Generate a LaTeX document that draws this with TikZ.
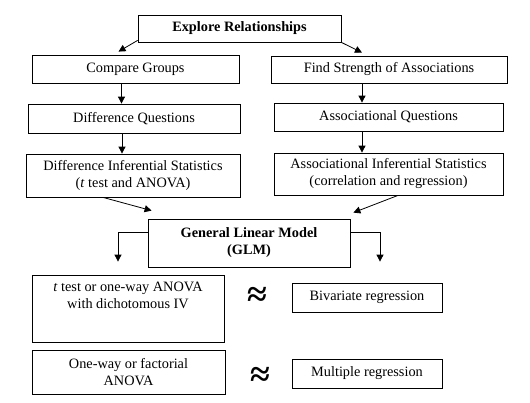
\documentclass[tikz,border=0pt]{standalone}
\usepackage{fontspec}
\setmainfont{Liberation Serif}
\usetikzlibrary{arrows.meta}

\newcommand\chartfont{\fontsize{14.3}{17}\selectfont}

\tikzset{
	box/.style={draw, line width=0.8pt, align=center, inner sep=1pt},
	arr/.style={-{Triangle[length=7pt,width=7pt]}, line width=0.8pt},
	approx/.style={font=\fontsize{36}{36}\selectfont\bfseries, inner sep=0pt},
}

\begin{document}
\begin{tikzpicture}[x=1pt, y=-1pt, every node/.style={font=\chartfont}]
	\useasboundingbox (0,0) rectangle (530,402);
	% top of the chart
	\node[box, minimum width=203pt, minimum height=27pt, font=\chartfont\bfseries] (explore) at (239.5,28.5) {Explore Relationships};
	\node[box, minimum width=207pt, minimum height=28pt] (compare) at (135.5,69) {Compare Groups};
	\node[box, minimum width=236pt, minimum height=27pt] (strength) at (389,69.5) {Find Strength of Associations};
	\node[box, minimum width=212pt, minimum height=29pt] (diffq) at (134,118.5) {Difference Questions};
	\node[box, minimum width=229pt, minimum height=28pt] (assocq) at (388.5,117) {Associational Questions};
	\node[box, minimum width=214pt, minimum height=43pt] (diffinf) at (133,175.5) {Difference Inferential Statistics\\(\textit{t} test and ANOVA)};
	\node[box, minimum width=229pt, minimum height=42pt] (associnf) at (388.5,174) {Associational Inferential Statistics\\(correlation and regression)};
	\node[box, minimum width=202pt, minimum height=48pt, font=\chartfont\bfseries] (glm) at (249,243) {General Linear Model\\(GLM)};

	% bottom rows
	\node[box, minimum width=192pt, minimum height=67pt] (ttest) at (128,308.5) {};
	\node[anchor=north, align=center] (ttesttxt) at ([yshift=-4pt]ttest.north) {\textit{t} test or one-way ANOVA\\with dichotomous IV};
	\node[box, minimum width=150pt, minimum height=29pt] (bivar) at (367,297.5) {Bivariate regression};
	\node[box, minimum width=193pt, minimum height=44pt] (oneway) at (128.5,372) {One-way or factorial\\ANOVA};
	\node[box, minimum width=150pt, minimum height=29pt] (multreg) at (367,373.5) {Multiple regression};
	\node[approx] (approxa) at (257,297) {≈};
	\node[approx] (approxb) at (260,377) {≈};

	% connectors
	\draw[arr] ([yshift=2pt]explore.south west) -- ([xshift=-17pt,yshift=3pt]compare.north);
	\draw[arr] (explore.south east) -- ([xshift=-27pt,yshift=3pt]strength.north);
	\draw[arr] ([xshift=-14pt]compare.south) -- ([xshift=-14pt]compare.south |- diffq.north);
	\draw[arr] ([xshift=-27pt]strength.south) -- ([xshift=-27pt]strength.south |- assocq.north);
	\draw[arr] ([xshift=-12pt]diffq.south) -- ([xshift=-12pt]diffq.south |- diffinf.north);
	\draw[arr] ([xshift=-26.5pt]assocq.south) -- ([xshift=-26.5pt]assocq.south |- associnf.north);
	\draw[arr] ([xshift=-30pt]diffinf.south) -- ([xshift=4pt,yshift=8pt]glm.north west);
	\draw[arr] ([xshift=9.5pt]associnf.south) -- ([xshift=3pt,yshift=6pt]glm.north east);
	\draw[arr] ([yshift=11pt]glm.west) -| ([xshift=-10pt,yshift=13pt]ttest.north);
	\draw[arr] ([yshift=11pt]glm.east) -| ([xshift=13pt,yshift=21pt]bivar.north);
\end{tikzpicture}
\end{document}
